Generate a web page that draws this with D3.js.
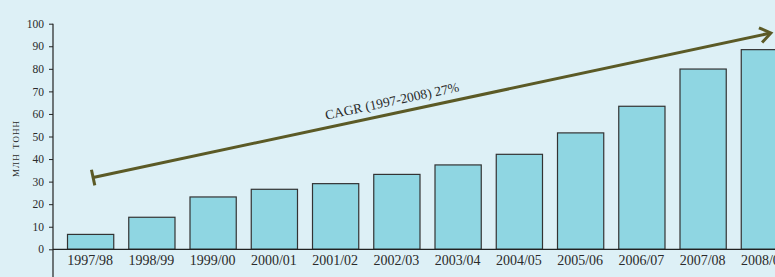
<!DOCTYPE html>
<html>
<head>
<meta charset="utf-8">
<script src="https://cdn.jsdelivr.net/npm/d3@7"></script>
<style>
  html, body { margin: 0; padding: 0; background: #ddf0f6; }
  svg { display: block; }
  text { font-family: "Liberation Serif", "DejaVu Serif", serif; fill: #2a2a2a; }
</style>
</head>
<body>
<svg id="chart" width="775" height="277"></svg>
<script>
const categories = ["1997/98","1998/99","1999/00","2000/01","2001/02","2002/03","2003/04","2004/05","2005/06","2006/07","2007/08","2008/09"];
const values = [6.6, 14.2, 23.2, 26.6, 29.1, 33.2, 37.4, 42.1, 51.6, 63.4, 79.9, 88.5];
const yTicks = [0, 10, 20, 30, 40, 50, 60, 70, 80, 90, 100];
const yTitle = "млн тонн";
const cagrLabel = "CAGR (1997-2008) 27%";
const cagrStart = { cat: 0, value: 31.8 };
const cagrEnd = { cat: 11, value: 95.9 };

const W = 775, H = 277;
const svg = d3.select("#chart");

const y = d3.scaleLinear().domain([0, 100]).range([249.3, 23.7]);
const x = d3.scaleBand().domain(categories).range([59.5, 794.5]).paddingInner(0.245).paddingOuter(0.1225);
const axisX = 53;

// bars
svg.append("g").selectAll("rect").data(values).join("rect")
  .attr("x", (d, i) => x(categories[i]) + 0.5)
  .attr("y", d => y(d))
  .attr("width", x.bandwidth())
  .attr("height", d => y(0) - y(d))
  .attr("fill", "#8fd6e2")
  .attr("stroke", "#333")
  .attr("stroke-width", 1.2);

// x axis line
svg.append("line").attr("x1", axisX).attr("x2", W).attr("y1", y(0)).attr("y2", y(0))
  .attr("stroke", "#222").attr("stroke-width", 1.2);

// x labels
svg.append("g").selectAll("text").data(categories).join("text")
  .attr("x", d => x(d) + x.bandwidth() / 2)
  .attr("y", 265)
  .attr("text-anchor", "middle")
  .attr("font-size", 14)
  .text(d => d);

// y axis
const yAxis = d3.axisLeft(y).tickValues(yTicks).tickSize(4).tickPadding(5).tickFormat(d3.format("d"));
const gy = svg.append("g").attr("transform", `translate(${axisX},0)`).call(yAxis);
gy.select(".domain").remove();
gy.selectAll(".tick line").attr("stroke", "#222");
gy.selectAll(".tick text").attr("font-size", 11.5).attr("font-family", "Liberation Serif, serif").attr("fill", "#2a2a2a");
svg.append("line").attr("x1", axisX).attr("x2", axisX).attr("y1", y(100)).attr("y2", H)
  .attr("stroke", "#222").attr("stroke-width", 1.2);

// y title
svg.append("text")
  .attr("transform", `translate(19,${(y(0) + y(100)) / 2 + 12}) rotate(-90)`)
  .attr("text-anchor", "middle")
  .attr("font-size", 13.5)
  .style("font-variant", "small-caps")
  .style("letter-spacing", "1px")
  .text(yTitle);

// CAGR arrow
const col = "#5b5a26";
const x0 = x(categories[cagrStart.cat]) + x.bandwidth() / 2 + 3;
const y0 = y(cagrStart.value);
const x1 = x(categories[cagrEnd.cat]) + x.bandwidth() / 2 + 7;
const y1 = y(cagrEnd.value);
const ang = Math.atan2(y1 - y0, x1 - x0);
const deg = ang * 180 / Math.PI;
const ga = svg.append("g");
ga.append("line").attr("x1", x0).attr("y1", y0).attr("x2", x1 - 1.5 * Math.cos(ang)).attr("y2", y1 - 1.5 * Math.sin(ang))
  .attr("stroke", col).attr("stroke-width", 3);
// tail bar
const tl = 8;
ga.append("line")
  .attr("x1", x0 + tl * Math.sin(ang)).attr("y1", y0 - tl * Math.cos(ang))
  .attr("x2", x0 - tl * Math.sin(ang)).attr("y2", y0 + tl * Math.cos(ang))
  .attr("stroke", col).attr("stroke-width", 3);
// head chevron
const hl = 13, ha = 0.62;
ga.append("path")
  .attr("d", `M${x1 - hl * Math.cos(ang - ha)},${y1 - hl * Math.sin(ang - ha)} L${x1},${y1} L${x1 - hl * Math.cos(ang + ha)},${y1 - hl * Math.sin(ang + ha)}`)
  .attr("fill", "none").attr("stroke", col).attr("stroke-width", 3).attr("stroke-linejoin", "miter");
// label
const t = 0.445;
const lx = x0 + t * (x1 - x0), ly = y0 + t * (y1 - y0);
svg.append("text")
  .attr("transform", `translate(${lx},${ly}) rotate(${deg})`)
  .attr("y", -8)
  .attr("text-anchor", "middle")
  .attr("font-size", 13.5)
  .text(cagrLabel);
</script>
</body>
</html>
